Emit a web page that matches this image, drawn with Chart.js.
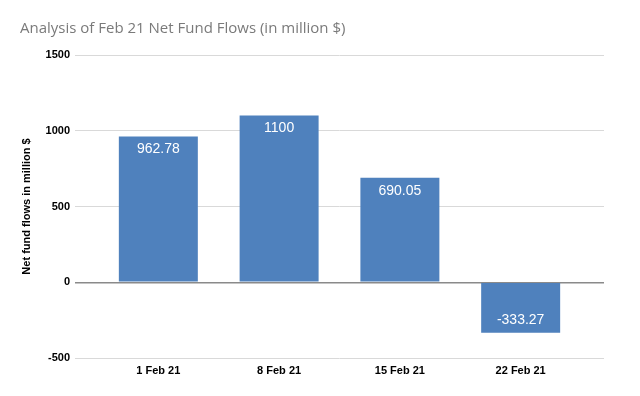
<!DOCTYPE html>
<html>
<head>
<meta charset="utf-8">
<script src="https://cdn.jsdelivr.net/npm/chart.js@4/dist/chart.umd.min.js"></script>
<style>
  html, body { margin: 0; padding: 0; background: #fff; }
  #wrap { width: 640px; height: 396px; }
</style>
</head>
<body>
<div id="wrap"><canvas id="flows"></canvas></div>
<script>
// week labels and net flows (million $)
const weeks = ['1 Feb 21', '8 Feb 21', '15 Feb 21', '22 Feb 21'];
const netFlows = [962.78, 1100, 690.05, -333.27];
const yTicks = [-500, 0, 500, 1000, 1500];

const narrow = "'Liberation Sans Narrow', 'Liberation Sans', Arial, sans-serif";

// white value labels inside the bars
const barLabels = {
  id: 'barLabels',
  afterDatasetsDraw(chart) {
    const c = chart.ctx;
    const meta = chart.getDatasetMeta(0);
    c.save();
    c.fillStyle = '#ffffff';
    c.font = '14px "Liberation Sans", Arial, sans-serif';
    c.textAlign = 'center';
    c.textBaseline = 'middle';
    meta.data.forEach((bar, i) => {
      const v = netFlows[i];
      const y = v >= 0 ? bar.y + 13 : bar.y - 13;
      c.fillText(String(v), bar.x, y);
    });
    c.restore();
  }
};

window.onload = function() {
  const ctx = document.querySelector('#flows');

  new Chart(ctx, {
    type: 'bar',
    data: {
      datasets: [{
        data: netFlows.map((v, i) => ({ x: i, y: v })),
        backgroundColor: '#4f81bd',
        borderWidth: 0,
        barPercentage: 0.654,
        categoryPercentage: 1
      }]
    },
    options: {
      responsive: true,
      maintainAspectRatio: false,
      animation: false,
      layout: { padding: { left: 20, right: 36, top: 0, bottom: 0 } },
      plugins: {
        legend: { display: false },
        tooltip: { enabled: false },
        title: {
          display: true,
          text: 'Analysis of Feb 21 Net Fund Flows (in million $)',
          align: 'start',
          color: '#7a7a7a',
          font: { family: "'Open Sans', sans-serif", size: 15, weight: 'normal' },
          padding: { top: 20, bottom: 17 }
        }
      },
      scales: {
        x: {
          type: 'linear',
          offset: false,
          min: -0.69,
          max: 3.69,
          afterBuildTicks: (axis) => { axis.ticks = weeks.map((w, i) => ({ value: i })); },
          afterFit: (axis) => { axis.height = 38; },
          grid: { display: false, drawTicks: false },
          border: { display: false },
          ticks: {
            color: '#000',
            padding: 6,
            font: { family: narrow, size: 11, weight: 'bold' },
            callback: (v) => weeks[v]
          }
        },
        y: {
          min: -500,
          max: 1500,
          afterBuildTicks: (axis) => { axis.ticks = yTicks.map(v => ({ value: v })); },
          afterFit: (axis) => { axis.width = 55; },
          border: { display: false },
          grid: {
            drawTicks: false,
            color: (c) => c.tick && c.tick.value === 0 ? '#8a8a8a' : '#d9d9d9',
            lineWidth: (c) => c.tick && c.tick.value === 0 ? 1.5 : 1
          },
          ticks: {
            color: '#000',
            padding: 5,
            font: { family: narrow, size: 11, weight: 'bold' },
            callback: (v) => String(v)
          },
          title: {
            display: true,
            text: 'Net fund flows in million $',
            color: '#000',
            font: { family: narrow, size: 11, weight: 'bold' },
            padding: { top: 0, bottom: 0 }
          }
        }
      }
    },
    plugins: [barLabels]
  });
};
</script>
</body>
</html>
